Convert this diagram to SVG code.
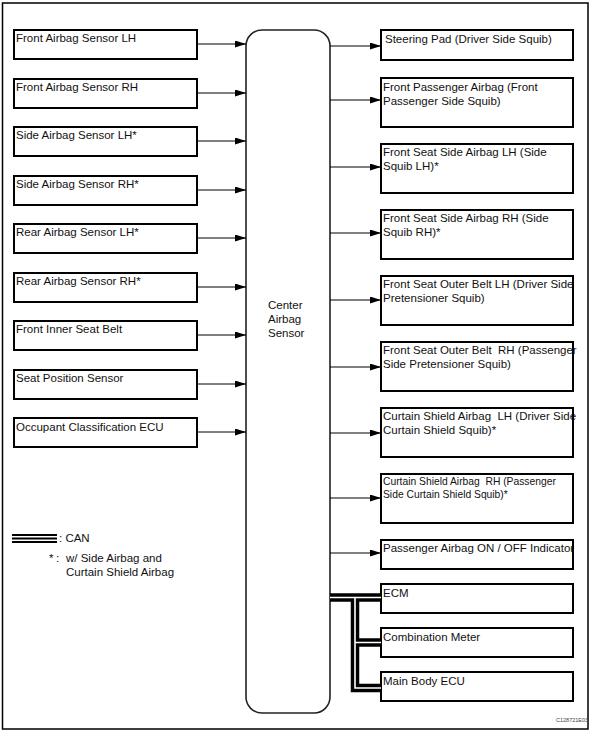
<svg xmlns="http://www.w3.org/2000/svg" width="591" height="732" viewBox="0 0 591 732">
<defs>
<marker id="arr" markerWidth="11" markerHeight="7" refX="11" refY="3.5" orient="auto" markerUnits="userSpaceOnUse">
<path d="M0,0 L11,3.5 L0,7 Z" fill="#000"/>
</marker>
<style>
.box{fill:#fff;stroke:#000;stroke-width:2}
.t{font-family:"Liberation Sans",Arial,sans-serif;font-size:11.5px;fill:#111;white-space:pre}
.s{font-size:10.3px}
.arrow{stroke:#000;stroke-width:1;fill:none;marker-end:url(#arr)}
.busA{stroke:#000;stroke-width:8.5;fill:none}
.busB{stroke:#fff;stroke-width:1.6;fill:none}
</style>
</defs>
<rect x="2.5" y="3" width="585.5" height="726" fill="#fff" stroke="#000" stroke-width="1.5"/>

<g id="left-nodes">
<g id="n-front-lh"><rect class="box" x="14" y="30" width="183" height="29"/><text class="t" x="16" y="42">Front Airbag Sensor LH</text></g>
<g id="n-front-rh"><rect class="box" x="14" y="79" width="183" height="29"/><text class="t" x="16" y="91">Front Airbag Sensor RH</text></g>
<g id="n-side-lh"><rect class="box" x="14" y="127" width="183" height="29"/><text class="t" x="16" y="139">Side Airbag Sensor LH*</text></g>
<g id="n-side-rh"><rect class="box" x="14" y="176" width="183" height="29"/><text class="t" x="16" y="188">Side Airbag Sensor RH*</text></g>
<g id="n-rear-lh"><rect class="box" x="14" y="224" width="183" height="29"/><text class="t" x="16" y="236">Rear Airbag Sensor LH*</text></g>
<g id="n-rear-rh"><rect class="box" x="14" y="273" width="183" height="29"/><text class="t" x="16" y="285">Rear Airbag Sensor RH*</text></g>
<g id="n-inner-belt"><rect class="box" x="14" y="321" width="183" height="29"/><text class="t" x="16" y="333">Front Inner Seat Belt</text></g>
<g id="n-seat-pos"><rect class="box" x="14" y="370" width="183" height="29"/><text class="t" x="16" y="382">Seat Position Sensor</text></g>
<g id="n-occupant"><rect class="box" x="14" y="418" width="183" height="29"/><text class="t" x="16" y="431">Occupant Classification ECU</text></g>
</g>

<g id="center">
<rect x="246" y="30" width="84" height="683" rx="16" ry="16" fill="#fff" stroke="#222" stroke-width="1.6"/>
<text class="t" x="268" y="309">Center</text>
<text class="t" x="268" y="323">Airbag</text>
<text class="t" x="268" y="337">Sensor</text>
</g>

<g id="right-nodes">
<g id="n-steering"><rect class="box" x="381" y="30" width="192" height="30"/><text class="t" x="385" y="43">Steering Pad (Driver Side Squib)</text></g>
<g id="n-front-pass"><rect class="box" x="381" y="78" width="192" height="49"/><text class="t" x="383" y="91">Front Passenger Airbag (Front</text><text class="t" x="383" y="105">Passenger Side Squib)</text></g>
<g id="n-fssa-lh"><rect class="box" x="381" y="144" width="192" height="49"/><text class="t" x="383" y="156">Front Seat Side Airbag LH (Side</text><text class="t" x="383" y="170">Squib LH)*</text></g>
<g id="n-fssa-rh"><rect class="box" x="381" y="210" width="192" height="49"/><text class="t" x="383" y="222">Front Seat Side Airbag RH (Side</text><text class="t" x="383" y="236">Squib RH)*</text></g>
<g id="n-fsob-lh"><rect class="box" x="381" y="276" width="192" height="49"/><text class="t" x="383" y="288">Front Seat Outer Belt LH (Driver Side</text><text class="t" x="383" y="302">Pretensioner Squib)</text></g>
<g id="n-fsob-rh"><rect class="box" x="381" y="342" width="192" height="49"/><text class="t" x="383" y="354">Front Seat Outer Belt  RH (Passenger</text><text class="t" x="383" y="368">Side Pretensioner Squib)</text></g>
<g id="n-curtain-lh"><rect class="box" x="381" y="408" width="192" height="49"/><text class="t" x="383" y="420">Curtain Shield Airbag  LH (Driver Side</text><text class="t" x="383" y="434">Curtain Shield Squib)*</text></g>
<g id="n-curtain-rh"><rect class="box" x="381" y="474" width="192" height="49"/><text class="t s" x="383" y="485">Curtain Shield Airbag  RH (Passenger</text><text class="t s" x="383" y="498">Side Curtain Shield Squib)*</text></g>
<g id="n-indicator"><rect class="box" x="381" y="540" width="192" height="29"/><text class="t" x="383" y="552">Passenger Airbag ON / OFF Indicator</text></g>
<g id="n-ecm"><rect class="box" x="381" y="584" width="192" height="29"/><text class="t" x="383" y="597">ECM</text></g>
<g id="n-meter"><rect class="box" x="381" y="628" width="192" height="29"/><text class="t" x="383" y="641">Combination Meter</text></g>
<g id="n-body"><rect class="box" x="381" y="672" width="192" height="29"/><text class="t" x="383" y="685">Main Body ECU</text></g>
</g>

<g id="connectors">
<line class="arrow" x1="197" y1="44" x2="246" y2="44"/>
<line class="arrow" x1="197" y1="93" x2="246" y2="93"/>
<line class="arrow" x1="197" y1="141" x2="246" y2="141"/>
<line class="arrow" x1="197" y1="190" x2="246" y2="190"/>
<line class="arrow" x1="197" y1="238" x2="246" y2="238"/>
<line class="arrow" x1="197" y1="287" x2="246" y2="287"/>
<line class="arrow" x1="197" y1="335" x2="246" y2="335"/>
<line class="arrow" x1="197" y1="384" x2="246" y2="384"/>
<line class="arrow" x1="197" y1="432" x2="246" y2="432"/>
<line class="arrow" x1="330" y1="46" x2="381" y2="46"/>
<line class="arrow" x1="330" y1="100" x2="381" y2="100"/>
<line class="arrow" x1="330" y1="167" x2="381" y2="167"/>
<line class="arrow" x1="330" y1="233" x2="381" y2="233"/>
<line class="arrow" x1="330" y1="300" x2="381" y2="300"/>
<line class="arrow" x1="330" y1="367" x2="381" y2="367"/>
<line class="arrow" x1="330" y1="433" x2="381" y2="433"/>
<line class="arrow" x1="330" y1="498" x2="381" y2="498"/>
<line class="arrow" x1="330" y1="553" x2="381" y2="553"/>
<g id="can-bus">
<path class="busA" d="M330,597.5 H381 M355,597.5 V688 H381 M355,642.5 H381"/>
<path class="busB" d="M330,597.5 H381 M355,597.5 V688 H381 M355,642.5 H381"/>
</g>
</g>

<g id="legend">
<line x1="12" y1="535" x2="57" y2="535" stroke="#000" stroke-width="1.8"/>
<line x1="12" y1="538.5" x2="57" y2="538.5" stroke="#000" stroke-width="1.8"/>
<line x1="12" y1="542" x2="57" y2="542" stroke="#000" stroke-width="1.8"/>
<text class="t" x="59" y="542">: CAN</text>
<text class="t" x="49" y="562">*</text>
<text class="t" x="56" y="562">:</text>
<text class="t" x="66" y="562">w/ Side Airbag and</text>
<text class="t" x="66" y="576">Curtain Shield Airbag</text>
<text x="556" y="722" font-family="Liberation Sans, Arial, sans-serif" font-size="5.5" fill="#444">C128721E03</text>
</g>
</svg>
